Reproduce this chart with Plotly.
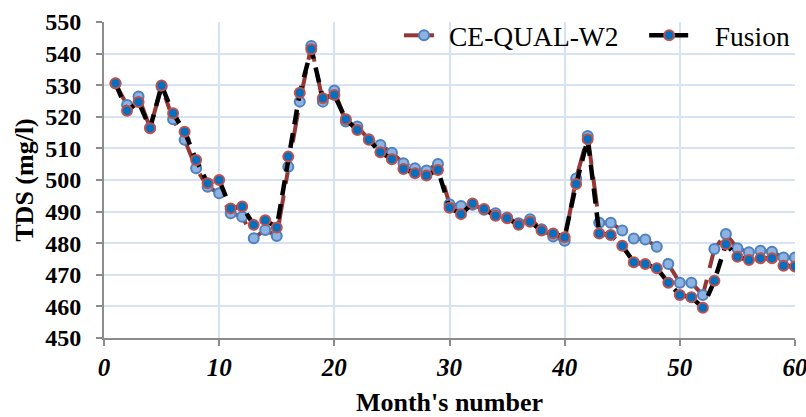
import plotly.graph_objects as go

months = list(range(1, 61))

ce_qual_w2 = [530.5, 523.7, 526.4, 516.5, 529.5, 519.2, 512.7, 503.7, 497.9, 495.8,
              489.5, 488.4, 481.6, 484.2, 482.3, 504.2, 524.8, 542.4, 524.8, 528.3,
              518.5, 516.9, 512.9, 511.1, 508.6, 505.3, 503.7, 503.0, 505.1, 492.3,
              491.8, 492.2, 490.6, 489.5, 488.1, 486.3, 487.6, 484.4, 482.1, 480.8,
              500.5, 513.9, 486.5, 486.5, 484.0, 481.5, 481.2, 478.9, 473.4, 467.5,
              467.5, 463.6, 478.2, 482.9, 478.4, 477.1, 477.6, 477.3, 475.5, 475.5]

fusion = [530.6, 521.9, 524.7, 516.4, 529.9, 521.1, 515.3, 506.3, 499.0, 500.0,
          491.0, 491.6, 485.8, 487.3, 485.0, 507.4, 527.6, 541.4, 525.9, 526.9,
          519.2, 515.8, 512.7, 508.8, 506.6, 503.5, 502.1, 501.4, 503.2, 491.2,
          489.2, 492.6, 490.8, 488.7, 487.9, 485.8, 486.8, 484.0, 483.1, 481.9,
          498.7, 512.9, 483.1, 482.6, 479.2, 474.0, 473.4, 472.1, 467.5, 463.6,
          462.9, 459.6, 468.1, 479.7, 475.7, 474.7, 475.2, 475.2, 472.9, 472.6]

series_names = ["CE-QUAL-W2", "Fusion"]

FONT = "Liberation Serif"
GRID = "#d7e2f2"
AXIS = "#8c8c8c"
NB = "\u00a0"

fig = go.Figure()
fig.add_trace(go.Scatter(
    x=months, y=ce_qual_w2, name=series_names[0] + NB * 3, mode="lines+markers",
    line=dict(color="#953735", width=4, dash="30px,12px"),
    marker=dict(size=10, color="#8db3e2", line=dict(color="#4f81bd", width=2)),
))
fig.add_trace(go.Scatter(
    x=months, y=fusion, name=NB * 3 + series_names[1], mode="lines+markers",
    line=dict(color="#000000", width=4.5, dash="15px,9px"),
    marker=dict(size=10, color="#0070c0", line=dict(color="#c0504d", width=2)),
))

fig.update_layout(
    width=806, height=417,
    margin=dict(l=104, r=11, t=22, b=79, autoexpand=False),
    paper_bgcolor="white", plot_bgcolor="white",
    font=dict(family=FONT, color="black"),
    showlegend=True,
    legend=dict(
        orientation="h", x=1.0, xanchor="right", y=1.035, yanchor="top",
        bgcolor="rgba(0,0,0,0)", font=dict(family=FONT, size=27.5, color="black"),
        itemwidth=40, tracegroupgap=0,
    ),
    xaxis=dict(
        range=[0, 60], dtick=10, tick0=0, automargin=False, ticklabeloverflow="allow",
        showgrid=True, gridcolor=GRID, gridwidth=2,
        showline=True, linecolor=AXIS, linewidth=2,
        ticks="outside", ticklen=6, tickwidth=2, tickcolor=AXIS,
        tickfont=dict(family=FONT, size=25, color="black", weight="bold", style="italic"),
        title=dict(text="<b>Month's number</b>", font=dict(family=FONT, size=26, color="black"), standoff=18),
        zeroline=False,
    ),
    yaxis=dict(
        range=[450, 550], dtick=10, tick0=450, automargin=False,
        showgrid=True, gridcolor=GRID, gridwidth=2,
        showline=True, linecolor=AXIS, linewidth=2,
        ticks="outside", ticklen=6, tickwidth=2, tickcolor=AXIS, ticklabelstandoff=10,
        tickfont=dict(family=FONT, size=24, color="black", weight="bold"),
        title=dict(text="<b>TDS (mg/l)</b>", font=dict(family=FONT, size=26, color="black"), standoff=4),
        zeroline=False,
    ),
)

fig.write_html("out.html", config={"displayModeBar": False},
               post_script="document.body.style.margin='0';document.body.style.overflow='hidden';")
